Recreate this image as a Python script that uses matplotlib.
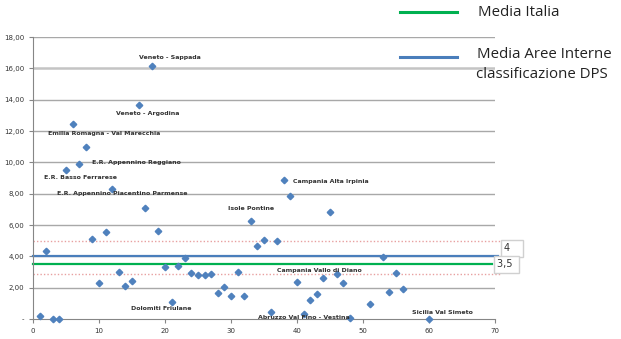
import numpy as np
import matplotlib.pyplot as plt
from matplotlib.lines import Line2D

# scatter data: area index vs value
x_vals = [1, 2, 3, 4, 5, 6, 7, 8, 9, 10, 11, 12, 13, 14, 15, 16, 17, 18, 19, 20,
          21, 22, 23, 24, 25, 26, 27, 28, 29, 30, 31, 32, 33, 34, 35, 36, 37, 38, 39, 40,
          41, 42, 43, 44, 45, 46, 47, 48, 51, 53, 54, 55, 56, 60]
y_vals = [0.21, 4.34, 0.0, 0.0, 9.50, 12.45, 9.90, 10.98, 5.12, 2.28, 5.53, 8.30, 3.02, 2.10, 2.42, 13.66, 7.10, 16.12, 5.64, 3.34,
          1.06, 3.40, 3.87, 2.96, 2.79, 2.79, 2.85, 1.68, 2.07, 1.49, 2.98, 1.49, 6.28, 4.68, 5.04, 0.43, 4.98, 8.85, 7.83, 2.34,
          0.32, 1.21, 1.60, 2.60, 6.85, 2.87, 2.28, 0.08, 0.98, 3.93, 1.74, 2.96, 1.89, 0.0]

media_italia = 3.5
media_aree = 4.0
band_hi = 5.0
band_lo = 2.9

# labels: (text, x of the point, offset in pixels)
labels = [
    ("Veneto - Sappada", 18, (-13, 9)),
    ("Veneto - Argodina", 16, (-23, -9)),
    ("Emilia Romagna - Val Marecchia", 6, (-25, -10)),
    ("E.R. Appennino Reggiano", 7, (13, 1)),
    ("E.R. Basso Ferrarese", 5, (-22, -7)),
    ("E.R. Appennino Piacentino Parmense", 12, (-55, -5)),
    ("Isole Pontine", 33, (-23, 12)),
    ("Campania Alta Irpinia", 38, (9, -1)),
    ("Campania Vallo di Diano", 46, (-60, 4)),
    ("Dolomiti Friulane", 21, (-41, -6)),
    ("Abruzzo Val Fino - Vestina", 36, (-13, -5)),
    ("Sicilia Val Simeto", 60, (-17, 6)),
]

fig = plt.figure(figsize=(6.21, 3.39), dpi=100)
ax = fig.add_axes([33 / 621, 20 / 339, 462 / 621, 282 / 339])

ax.set_xlim(0, 70)
ax.set_ylim(0, 18)
yt = np.arange(0, 19, 2)
ax.set_yticks(yt)
ax.set_yticklabels(["-"] + ["%d,00" % v for v in yt[1:]])
ax.set_xticks(np.arange(0, 71, 10))
for v in yt[1:]:
    if v == 16:
        ax.axhline(v, color="#C4C4C4", lw=1.8, zorder=0)
    else:
        ax.axhline(v, color="#A8A8A8", lw=1.0, zorder=0)

for s in ["top", "right"]:
    ax.spines[s].set_visible(False)
for s in ["left", "bottom"]:
    ax.spines[s].set_color("#868686")
ax.tick_params(axis="both", labelsize=5, colors="#868686", length=3, labelcolor="#333333")

# reference lines
ax.plot([0, 70.4], [media_aree, media_aree], color="#4A7EBB", lw=1.6, clip_on=False, zorder=2)
ax.plot([0, 69.5], [media_italia, media_italia], color="#00B050", lw=1.6, clip_on=False, zorder=2)
ax.plot([0, 70.8], [band_hi, band_hi], color="#E8A0A0", lw=1.0, ls=(0, (1, 1.5)), clip_on=False, zorder=1)
ax.plot([0, 70.8], [band_lo, band_lo], color="#E8A0A0", lw=1.0, ls=(0, (1, 1.5)), clip_on=False, zorder=1)

ax.plot(x_vals, y_vals, ls="none", marker="D", ms=3.3, color="#4F81BD", clip_on=False, zorder=3)

lookup = dict(zip(x_vals, y_vals))
for txt, xp, off in labels:
    ax.annotate(txt, (xp, lookup[xp]), xytext=off, textcoords="offset pixels",
                ha="left", va="center", fontsize=4.5, fontweight="bold", color="#333333")

box = dict(boxstyle="square,pad=0.35", fc="white", ec="#D0D0D0", lw=1)
ax.annotate("4   ", (70, media_aree), xytext=(9, 8), textcoords="offset pixels",
            ha="left", va="center", fontsize=7, color="#333333", bbox=box,
            annotation_clip=False)
ax.annotate("3,5 ", (70, media_italia), xytext=(2, 0), textcoords="offset pixels",
            ha="left", va="center", fontsize=7, color="#333333", bbox=box,
            annotation_clip=False)

# legend drawn by hand
fig.add_artist(Line2D([400 / 621, 457 / 621], [1 - 12 / 339] * 2, color="#00B050", lw=2.2))
fig.add_artist(Line2D([400 / 621, 457 / 621], [1 - 57 / 339] * 2, color="#4A7EBB", lw=2.2))
fig.text(478 / 621, 1 - 13 / 339, "Media Italia", fontsize=10.8, family="Open Sans", va="center", color="#222222")
fig.text(477 / 621, 1 - 55 / 339, "Media Aree Interne", fontsize=10.8, family="Open Sans", va="center", color="#222222")
fig.text(476 / 621, 1 - 75 / 339, "classificazione DPS", fontsize=10.8, family="Open Sans", va="center", color="#222222")

fig.savefig("out.png", dpi=100)
